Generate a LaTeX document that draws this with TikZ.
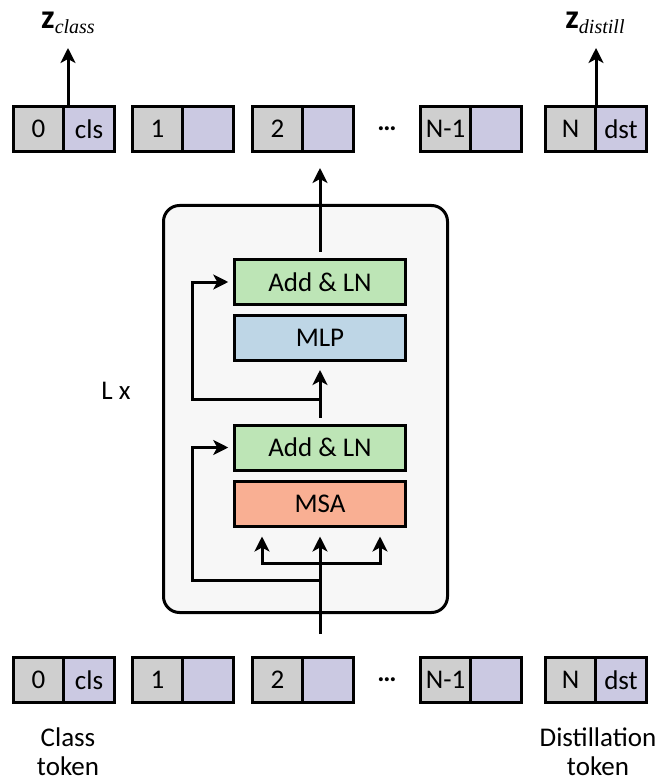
\documentclass[tikz,border=0pt]{standalone}
\usepackage{fontspec}
\setmainfont{Carlito}
\newfontfamily\SubFont{Liberation Serif}
\usetikzlibrary{arrows.meta, positioning, calc}
\definecolor{TokGray}{HTML}{CFCFCF}
\definecolor{TokLilac}{HTML}{CBC9E2}
\definecolor{LnGreen}{HTML}{BDE5B6}
\definecolor{MlpBlue}{HTML}{BED6E6}
\definecolor{MsaSalmon}{HTML}{F9AF93}
\definecolor{BlockBg}{HTML}{F7F7F7}
\newcommand{\TokFont}{\fontsize{27pt}{27pt}\selectfont}
\newcommand{\BoxFont}{\fontsize{27pt}{29pt}\selectfont}
\newcommand{\OutLabel}[1]{{\fontsize{34pt}{34pt}\selectfont\bfseries z}\raisebox{-5pt}{\SubFont\itshape\fontsize{20pt}{20pt}\selectfont #1}}

\begin{document}
\begin{tikzpicture}[x=1pt, y=-1pt, line width=3pt,
  tokid/.style={draw, fill=TokGray, minimum width=50.5pt, minimum height=45pt,
    inner sep=0pt, outer sep=0pt, font=\TokFont},
  tokemb/.style={tokid, fill=TokLilac},
  layer/.style={draw, minimum width=170.5pt, minimum height=45pt, inner sep=0pt, font=\BoxFont},
  arr/.style={-{Stealth[length=15pt, width=15pt, inset=4pt]}},
  caption/.style={font=\BoxFont, align=center}]
  \useasboundingbox (0,0) rectangle (655,783);

  % encoder block
  \node[draw, rounded corners=16pt, fill=BlockBg, minimum width=284pt, minimum height=407pt,
    outer sep=0pt] (enc) at (305.5,409) {};
  \node[layer, fill=LnGreen] (ln2) at (320,282) {Add \& LN};
  \node[layer, fill=MlpBlue] (mlp) at (320,338) {MLP};
  \node[layer, fill=LnGreen] (ln1) at (320,447.5) {Add \& LN};
  \node[layer, fill=MsaSalmon] (msa) at (320,503.5) {MSA};
  \node[font=\BoxFont] (lx) at (116,391) {L x};

  % token rows
  \foreach \row/\y in {top/129, bot/680} {
    \foreach \k/\x/\idtxt/\embtxt in {0/12/0/cls, 1/131/1/{}, 2/251/2/{}, m/419/N-1/{}, n/544/N/dst} {
      \node[tokid] (\row-id\k) at (\x+26.5,\y) {\idtxt};
      \node[tokemb, right=0pt of \row-id\k] (\row-emb\k) {\embtxt};
    }
    \node[font=\TokFont\bfseries] (\row-dots) at (387,\y) {\dots};
  }

  % outputs
  \node (zclass) at (68,23) {\OutLabel{class}};
  \node (zdistill) at (595,23) {\OutLabel{distill}};
  \coordinate (zc-tip) at (68,48);
  \coordinate (zd-tip) at (596,48);
  \draw[arr] (top-id0.north east -| zc-tip) -- (zc-tip);
  \draw[arr] (top-idn.north east -| zd-tip) -- (zd-tip);
  \coordinate (out-tip) at (320,168);
  \draw[arr, shorten <=6pt] (ln2.north) -- (out-tip);

  % inside the block
  \coordinate (in-tail) at (320,634);
  \coordinate (qkv) at (320,563);
  \coordinate (res0) at (320,580);
  \coordinate (res1) at (320,399);
  \draw[arr, shorten >=9pt] (in-tail) -- (msa.south);
  \draw[arr, shorten >=9pt] (qkv) -| ([xshift=-58pt]msa.south);
  \draw[arr, shorten >=9pt] (qkv) -| ([xshift=60pt]msa.south);
  \draw[arr, shorten >=5pt] (res0) -- ++(-128,0) |- (ln1.west);
  \draw[arr, shorten <=6pt, shorten >=8pt] (ln1.north) -- (mlp.south);
  \draw[arr, shorten >=5pt] (res1) -- ++(-128,0) |- (ln2.west);

  % captions
  \node[caption] (cls-cap) at (68,752) {Class\\token};
  \node[caption] (dst-cap) at (598,752) {Distillation\\token};
\end{tikzpicture}
\end{document}
